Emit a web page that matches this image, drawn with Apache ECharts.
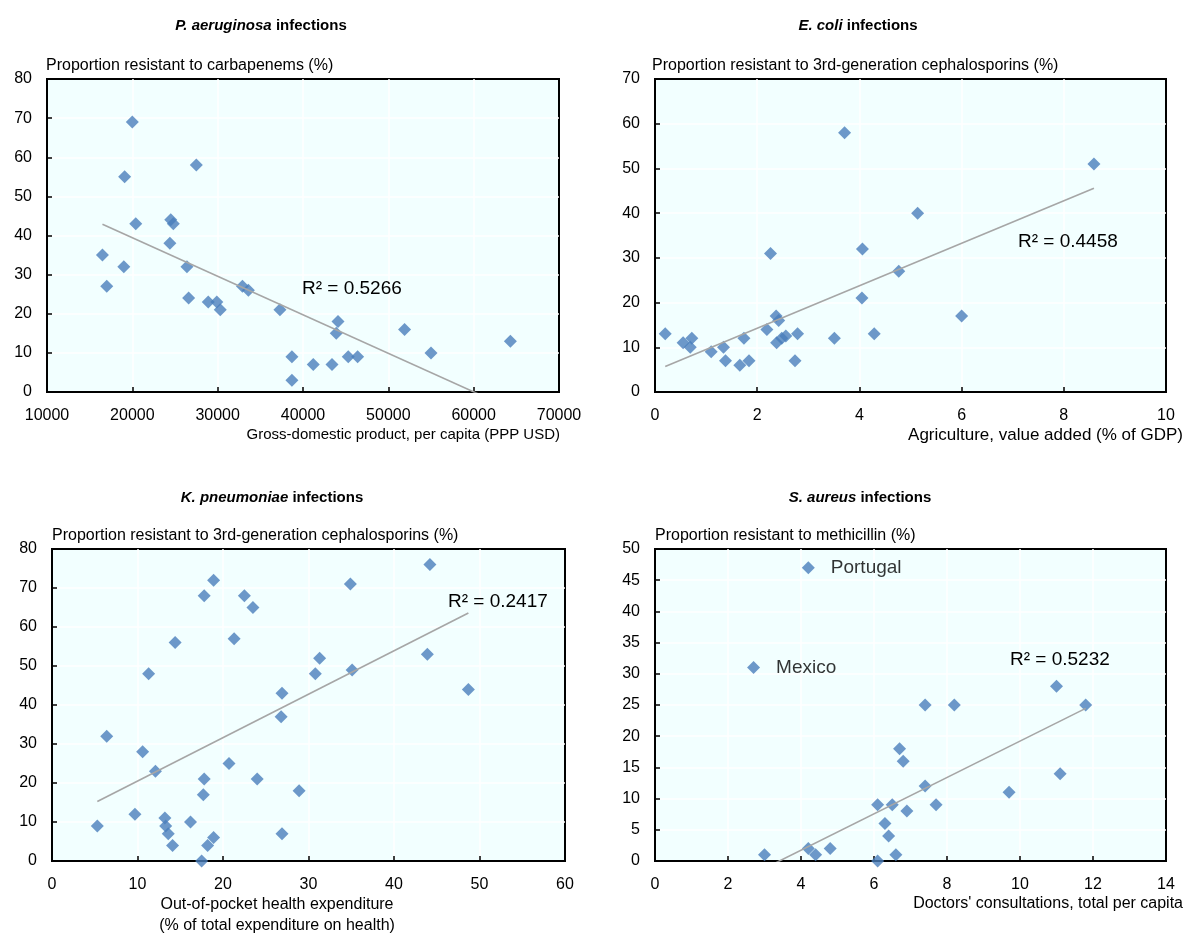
<!DOCTYPE html>
<html>
<head>
<meta charset="utf-8">
<script src="https://cdn.jsdelivr.net/npm/echarts/dist/echarts.min.js"></script>
<style>
  html, body { margin: 0; padding: 0; background: #ffffff; }
  #chart { width: 1184px; height: 934px; }
</style>
</head>
<body>
<div id="chart"></div>
<script>
// P. aeruginosa: GDP per capita (PPP USD) vs. % resistant to carbapenems
const gdpPerCapita = [16500, 17000, 20000, 19100, 19000, 20400, 24500, 24800, 24400, 27500,
  26400, 26600, 28900, 29900, 30300, 32900, 33600, 37300, 38700, 38700,
  41200, 43400, 44100, 43900, 45300, 46400, 51900, 55000, 64300];
const carbapenemResistance = [35, 27, 69, 55, 32, 43, 44, 43, 38, 58,
  32, 24, 23, 23, 21, 27, 26, 21, 9, 3,
  7, 7, 18, 15, 9, 9, 16, 10, 13];

// E. coli: agriculture value added (% of GDP) vs. % resistant to 3rd-gen cephalosporins
const agricultureShare = [0.2, 0.55, 0.72, 0.69, 1.1, 1.34, 1.38, 1.66, 1.74, 1.84,
  2.19, 2.26, 2.37, 2.42, 2.38, 2.48, 2.56, 2.79, 2.74, 3.51,
  3.71, 4.06, 4.05, 4.29, 4.77, 5.14, 6.0, 8.59];
const ecoliCephResistance = [13, 11, 12, 10, 9, 10, 7, 6, 12, 7,
  14, 31, 17, 16, 11, 12, 12.5, 13, 7, 12,
  58, 32, 21, 13, 27, 40, 17, 51];

// K. pneumoniae: out-of-pocket expenditure (% of health spending) vs. % resistant
const outOfPocketShare = [5.3, 6.4, 9.7, 10.6, 11.3, 12.1, 13.2, 13.3, 13.6, 14.1,
  14.4, 16.2, 17.5, 17.7, 17.8, 17.8, 18.9, 18.2, 18.9, 20.7,
  21.3, 22.5, 23.5, 24.0, 26.9, 26.8, 26.9, 28.9, 30.8, 31.3,
  34.9, 35.1, 43.9, 44.2, 48.7];
const kpneumoniaeCephResistance = [9, 32, 12, 28, 48, 23, 11, 9, 7, 4,
  56, 10, 0, 17, 21, 68, 72, 4, 6, 25,
  57, 68, 65, 21, 43, 37, 7, 18, 48, 52,
  71, 49, 53, 76, 44];

// S. aureus: doctors' consultations per capita vs. % resistant to methicillin
const consultationsPerCapita = [3.0, 4.2, 4.4, 4.8, 6.1, 6.1, 6.3, 6.4, 6.5, 6.6,
  6.7, 6.8, 6.9, 7.4, 7.4, 7.7, 8.2, 9.7, 11.0, 11.1, 11.8];
const methicillinResistance = [1, 2, 1, 2, 0, 9, 6, 4, 9, 1,
  18, 16, 8, 25, 12, 9, 25, 11, 28, 14, 25];
// Outliers shown with their names, left out of the fitted line
const namedCountries = ['Portugal', 'Mexico'];
const namedConsultations = [4.2, 2.7];
const namedMethicillin = [47, 31];

// Reported coefficients of determination
const rSquaredLabels = ['0.5266', '0.4458', '0.2417', '0.5232'];

const FONT = '"Liberation Sans", Arial, Helvetica, sans-serif';
const BLUE = '#4A7EBB';
const TREND = '#A6A6A6';

// Ordinary least squares line over the observed x range
function fitLine(xs, ys) {
  const n = xs.length;
  let sx = 0, sy = 0, sxx = 0, sxy = 0;
  for (let i = 0; i < n; i++) { sx += xs[i]; sy += ys[i]; sxx += xs[i] * xs[i]; sxy += xs[i] * ys[i]; }
  const slope = (n * sxy - sx * sy) / (n * sxx - sx * sx);
  const intercept = (sy - slope * sx) / n;
  const lo = Math.min(...xs), hi = Math.max(...xs);
  return [[lo, intercept + slope * lo], [hi, intercept + slope * hi]];
}
function pairs(xs, ys) { return xs.map((x, i) => [x, ys[i]]); }

const panels = [
  { grid: { left: 47, top: 79, width: 512, height: 313 },
    x: { min: 10000, max: 70000, interval: 10000 }, y: { min: 0, max: 80, interval: 10 },
    xs: gdpPerCapita, ys: carbapenemResistance },
  { grid: { left: 655, top: 79, width: 511, height: 313 },
    x: { min: 0, max: 10, interval: 2 }, y: { min: 0, max: 70, interval: 10 },
    xs: agricultureShare, ys: ecoliCephResistance },
  { grid: { left: 52, top: 549, width: 513, height: 312 },
    x: { min: 0, max: 60, interval: 10 }, y: { min: 0, max: 80, interval: 10 },
    xs: outOfPocketShare, ys: kpneumoniaeCephResistance },
  { grid: { left: 655, top: 549, width: 511, height: 312 },
    x: { min: 0, max: 14, interval: 2 }, y: { min: 0, max: 50, interval: 5 },
    xs: consultationsPerCapita, ys: methicillinResistance }
];

const grids = [], xAxes = [], yAxes = [], series = [];
panels.forEach((p, i) => {
  grids.push(Object.assign({ show: true, backgroundColor: '#F2FFFF', borderColor: '#000', borderWidth: 2 }, p.grid));
  const common = {
    type: 'value', gridIndex: i,
    axisLine: { show: true, onZero: false, lineStyle: { color: '#000', width: 2 } },
    axisTick: { show: true, inside: true, length: 5, lineStyle: { color: '#000', width: 1.5 } },
    splitLine: { show: true, showMinLine: false, showMaxLine: false, lineStyle: { color: '#FFFFFF', width: 1.5 } },
    axisLabel: { color: '#000', fontSize: 16, fontFamily: FONT, formatter: v => String(v) }
  };
  xAxes.push(Object.assign({}, common, p.x, { axisLabel: Object.assign({}, common.axisLabel, { margin: 16 }) }));
  yAxes.push(Object.assign({}, common, p.y, { axisLabel: Object.assign({}, common.axisLabel, { margin: 15 }) }));
  series.push({
    type: 'scatter', xAxisIndex: i, yAxisIndex: i, symbol: 'diamond', symbolSize: 13,
    itemStyle: { color: BLUE }, data: pairs(p.xs, p.ys), z: 3
  });
  series.push({
    type: 'line', xAxisIndex: i, yAxisIndex: i, data: fitLine(p.xs, p.ys),
    showSymbol: false, symbol: 'none', clip: true, silent: true,
    lineStyle: { color: TREND, width: 1.6 }, z: 4
  });
});
series.push({
  type: 'scatter', xAxisIndex: 3, yAxisIndex: 3, symbol: 'diamond', symbolSize: 13,
  itemStyle: { color: BLUE }, z: 3,
  data: namedCountries.map((n, i) => ({ name: n, value: [namedConsultations[i], namedMethicillin[i]] })),
  label: { show: true, position: 'right', distance: 16, formatter: '{b}', color: '#000', fontSize: 19, fontFamily: FONT }
});

function txt(x, y, text, size, align) {
  return {
    type: 'text', x: x, y: y, z: 100, silent: true,
    style: { text: text, fill: '#000', fontSize: size, fontFamily: FONT,
      align: align, textAlign: align, verticalAlign: 'middle', textVerticalAlign: 'middle' }
  };
}
function title(x, y, species) {
  return {
    type: 'text', x: x, y: y, z: 100, silent: true,
    style: {
      text: '{i|' + species + '}{b| infections}', fill: '#000',
      align: 'center', textAlign: 'center', verticalAlign: 'middle', textVerticalAlign: 'middle',
      rich: {
        i: { fontStyle: 'italic', fontWeight: 'bold', fontSize: 15, fontFamily: FONT, fill: '#000' },
        b: { fontWeight: 'bold', fontSize: 15, fontFamily: FONT, fill: '#000' }
      }
    }
  };
}

const graphics = [
  title(261, 26, 'P. aeruginosa'),
  title(858, 26, 'E. coli'),
  title(272, 498, 'K. pneumoniae'),
  title(860, 498, 'S. aureus'),
  txt(46, 66, 'Proportion resistant to carbapenems (%)', 16, 'left'),
  txt(652, 66, 'Proportion resistant to 3rd-generation cephalosporins (%)', 16, 'left'),
  txt(52, 536, 'Proportion resistant to 3rd-generation cephalosporins (%)', 16, 'left'),
  txt(655, 536, 'Proportion resistant to methicillin (%)', 16, 'left'),
  txt(560, 435, 'Gross-domestic product, per capita (PPP USD)', 15, 'right'),
  txt(1183, 435, 'Agriculture, value added (% of GDP)', 17, 'right'),
  txt(277, 905, 'Out-of-pocket health expenditure', 16, 'center'),
  txt(277, 926, '(% of total expenditure on health)', 16, 'center'),
  txt(1183, 904, "Doctors' consultations, total per capita", 16, 'right'),
  txt(302, 289, 'R\u00B2 = ' + rSquaredLabels[0], 19, 'left'),
  txt(1018, 242, 'R\u00B2 = ' + rSquaredLabels[1], 19, 'left'),
  txt(448, 602, 'R\u00B2 = ' + rSquaredLabels[2], 19, 'left'),
  txt(1010, 660, 'R\u00B2 = ' + rSquaredLabels[3], 19, 'left')
];

const chart = echarts.init(document.getElementById('chart'), null, { renderer: 'canvas' });
chart.setOption({
  animation: false,
  backgroundColor: '#ffffff',
  grid: grids,
  xAxis: xAxes,
  yAxis: yAxes,
  series: series,
  graphic: graphics
});
</script>
</body>
</html>
